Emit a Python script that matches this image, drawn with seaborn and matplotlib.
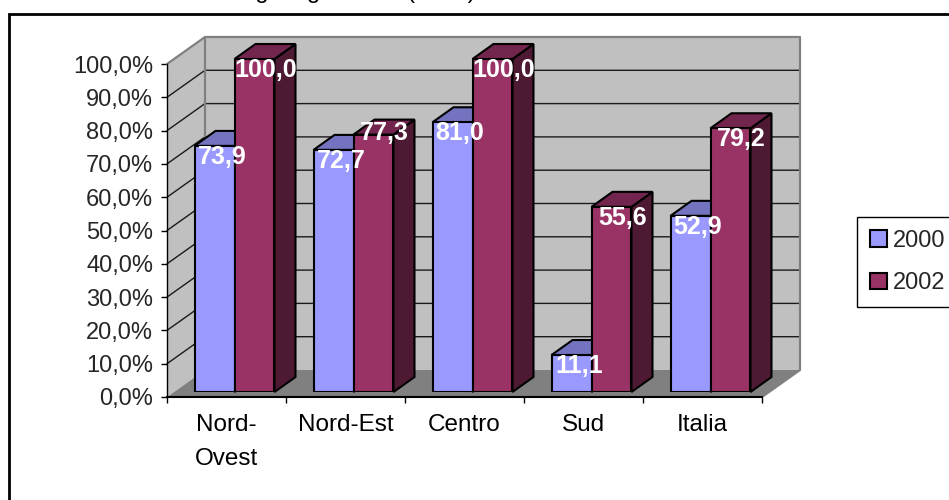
import pandas as pd
import seaborn as sns
import matplotlib
matplotlib.use("Agg")
import matplotlib.pyplot as plt
from matplotlib.patches import Polygon, Rectangle

# -----------------------------
# Data
# -----------------------------
regions = ["Nord-\nOvest", "Nord-Est", "Centro", "Sud", "Italia"]
values_2000 = [73.9, 72.7, 81.0, 11.1, 52.9]
values_2002 = [100.0, 77.3, 100.0, 55.6, 79.2]
years = ["2000", "2002"]
y_ticks = [0, 10, 20, 30, 40, 50, 60, 70, 80, 90, 100]
title_text = "degli organizzati (2002)"

colors = {"2000": "#9999FF", "2002": "#993366"}
top_colors = {"2000": "#7373C0", "2002": "#73264D"}
side_colors = {"2000": "#4D4D80", "2002": "#4D1933"}

df = pd.DataFrame({
    "Region": regions * 2,
    "Year": [years[0]] * 5 + [years[1]] * 5,
    "Value": values_2000 + values_2002,
})

# -----------------------------
# Layout in pixels
# -----------------------------
W, H = 949, 500
FRONT_LEFT, FRONT_RIGHT, FRONT_BOTTOM, FRONT_TOP = 167, 762, 397, 64
BAR_SHIFT_X, BAR_SHIFT_Y = 8, 5
PX_X = 5 / (FRONT_RIGHT - FRONT_LEFT)
PX_Y = 100 / (FRONT_BOTTOM - FRONT_TOP)
PT = 72 / 100  # one pixel in points
WALL_DX, WALL_DY = 38 * PX_X, 27 * PX_Y
BAR_DX, BAR_DY = 21 * PX_X, 15 * PX_Y


def px_axes(fig, left, right, bottom, top):
    return fig.add_axes([left / W, 1 - bottom / H, (right - left) / W, (bottom - top) / H])


sns.set_style("white")
plt.rcParams["font.family"] = ["Liberation Sans", "DejaVu Sans"]

fig = plt.figure(figsize=(W / 100, H / 100), dpi=100)
fig.patches.append(Rectangle((9 / W, -0.1), 1.1, 1.1 - 14 / H, transform=fig.transFigure,
                             fill=False, edgecolor="black", linewidth=2))
# the title is cut by the top edge in the reference too
fig.text(352 / W, 1 + 2 / H, title_text, ha="center", va="baseline", fontsize=17, color="black")

# -----------------------------
# Back walls, floor and axis
# -----------------------------
ax = px_axes(fig, FRONT_LEFT, FRONT_RIGHT, FRONT_BOTTOM, FRONT_TOP)
ax.set_xlim(-0.5, 4.5)
ax.set_ylim(0, 100)
ax.patch.set_alpha(0)
ax.set_xticks(range(5))
ax.set_xticklabels(regions, linespacing=1.7)
ax.set_xticks([i - 0.5 for i in range(6)], minor=True)
ax.set_yticks(y_ticks)
ax.set_yticklabels([f"{t:.1f}%".replace(".", ",") for t in y_ticks])
ax.tick_params(axis="x", which="major", length=0, pad=12.5, labelsize=17.5, colors="black")
ax.tick_params(axis="x", which="minor", length=4.5, width=1, color="black", bottom=True)
ax.tick_params(axis="y", length=4.5, width=1, pad=5.5, labelsize=17, left=True, color="black")
sns.despine(ax=ax)
ax.spines["left"].set_color("black")
ax.spines["bottom"].set_color("black")
ax.spines["bottom"].set_linewidth(1.5)
ax.spines["left"].set_linewidth(1)

x0, x1 = -0.5, 4.5
ax.add_patch(Polygon([(x0, 0), (x0 + WALL_DX, WALL_DY), (x1 + WALL_DX, WALL_DY), (x1, 0)],
                     facecolor="#808080", edgecolor="none", clip_on=False, zorder=0.5))
ax.add_patch(Polygon([(x0, 0), (x0 + WALL_DX, WALL_DY), (x0 + WALL_DX, 100 + WALL_DY), (x0, 100)],
                     facecolor="#C0C0C0", edgecolor="none", clip_on=False, zorder=0.4))
ax.add_patch(Polygon([(x0 + WALL_DX, WALL_DY), (x1 + WALL_DX, WALL_DY),
                      (x1 + WALL_DX, 100 + WALL_DY), (x0 + WALL_DX, 100 + WALL_DY)],
                     facecolor="#C0C0C0", edgecolor="none", clip_on=False, zorder=0.4))
for t in y_ticks[1:-1]:
    ax.plot([x0, x0 + WALL_DX, x1 + WALL_DX], [t, t + WALL_DY, t + WALL_DY],
            color="#1A1A1A", linewidth=1, clip_on=False, zorder=0.6)
# grey frame around the walls
ax.plot([x0, x0 + WALL_DX, x1 + WALL_DX, x1 + WALL_DX, x1],
        [100, 100 + WALL_DY, 100 + WALL_DY, WALL_DY, 0],
        color="#808080", linewidth=1.6, clip_on=False, zorder=0.7)
ax.plot([x0 + WALL_DX, x0 + WALL_DX], [100 + WALL_DY, WALL_DY],
        color="#808080", linewidth=1.6, clip_on=False, zorder=0.7)

# -----------------------------
# Bars, on a second axes moved a little into the depth
# -----------------------------
bar_ax = px_axes(fig, FRONT_LEFT + BAR_SHIFT_X, FRONT_RIGHT + BAR_SHIFT_X,
                 FRONT_BOTTOM - BAR_SHIFT_Y, FRONT_TOP - BAR_SHIFT_Y)
sns.barplot(data=df, x="Region", y="Value", hue="Year", hue_order=years, palette=colors,
            order=regions, width=0.672, gap=0, edgecolor="black", linewidth=1.5,
            saturation=1, errorbar=None, ax=bar_ax)
bar_ax.set_xlim(-0.5, 4.5)
bar_ax.set_ylim(0, 100)
bar_ax.axis("off")

for container, year in zip(bar_ax.containers, years):
    label_dx = 7.5 if year == "2000" else 11
    for bar, value in zip(container, df.loc[df["Year"] == year, "Value"]):
        bar.set_zorder(2)
        left, right = bar.get_x(), bar.get_x() + bar.get_width()
        top = bar.get_height()
        bar_ax.add_patch(Polygon([(right, 0), (right + BAR_DX, BAR_DY), (right + BAR_DX, top + BAR_DY), (right, top)],
                                 facecolor=side_colors[year], edgecolor="black", linewidth=1.5,
                                 clip_on=False, zorder=1))
        bar_ax.add_patch(Polygon([(left, top), (left + BAR_DX, top + BAR_DY), (right + BAR_DX, top + BAR_DY), (right, top)],
                                 facecolor=top_colors[year], edgecolor="black", linewidth=1.5,
                                 clip_on=False, zorder=1))
        label_dy = 2 if value == 77.3 else -11
        bar_ax.annotate(f"{value:.1f}".replace(".", ","), ((left + right) / 2, top),
                        xytext=(label_dx * PT, label_dy * PT), textcoords="offset points",
                        ha="center", va="center", color="white", fontweight="bold",
                        fontsize=18, zorder=5, annotation_clip=False)

sns.move_legend(bar_ax, "upper left", bbox_to_anchor=(857 / W, 1 - 217 / H),
                bbox_transform=fig.transFigure, title=None, frameon=True, fancybox=False,
                framealpha=1, edgecolor="black", fontsize=17, borderpad=0.55, borderaxespad=0,
                labelspacing=0.85, handlelength=0.7, handleheight=0.7, handletextpad=0.25)
bar_ax.get_legend().get_frame().set_linewidth(1)
bar_ax.get_legend().set_zorder(6)

fig.savefig("out.png", dpi=100)
